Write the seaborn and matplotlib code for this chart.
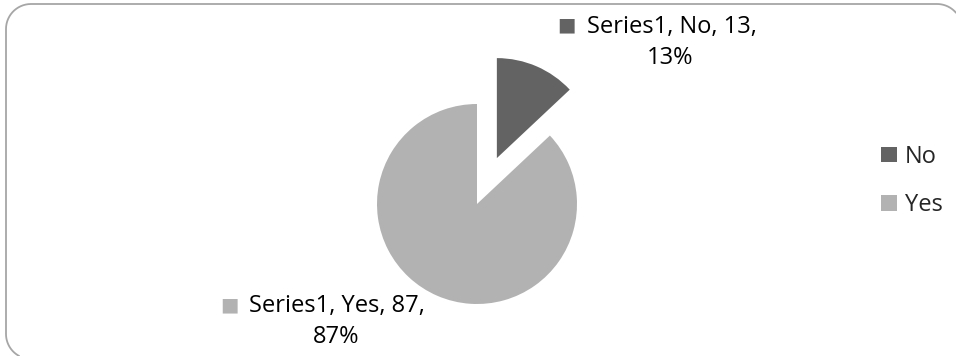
import matplotlib
matplotlib.use("Agg")
import matplotlib.pyplot as plt
from matplotlib.lines import Line2D
import numpy as np
import seaborn as sns

series_name = "Series1"
categories = ["No", "Yes"]
values = [13, 87]
colors = ["#636363", "#b2b2b2"]

sns.set_theme(style="white")
plt.rcParams['font.family'] = ['Open Sans', 'DejaVu Sans']

W, H = 956, 356
fig = plt.figure(figsize=(W / 100, H / 100), dpi=100)
ax = fig.add_axes([0, 0, 1, 1])
cx, cy, R = 477, 204, 100

total = sum(values)
wedges, _ = ax.pie(values, colors=colors, explode=[0.5, 0], startangle=90,
                   counterclock=False, radius=1,
                   wedgeprops=dict(linewidth=0))
ax.set_xlim(-cx / R, (W - cx) / R)
ax.set_ylim(-(H - cy) / R, cy / R)
ax.set_aspect("equal")
ax.axis("off")

def px(x, y):
    return ((x - cx) / R, (cy - y) / R)

fs = 17
# (line1 centre x, line1 centre y, line2 centre x, marker x, marker y)
label_pos = [(672, 27, 670, 566, 25), (337, 306, 336, 229, 305)]
for cat, val, col, (tx, ty, tx2, mx, my) in zip(categories, values, colors, label_pos):
    pct = round(val / total * 100)
    ax.text(*px(tx, ty), f"{series_name}, {cat}, {val},", ha="center", va="center",
            fontsize=fs, color="#000000")
    ax.text(*px(tx2, ty + 31), f"{pct}%", ha="center", va="center",
            fontsize=fs, color="#000000")
    ax.text(*px(mx, my), "\u25A0", ha="center", va="center", fontsize=14,
            color=col, family=["DejaVu Sans"])

leg = ax.legend(wedges, categories, loc="center left",
                bbox_to_anchor=(872 / W, 1 - 181 / H), frameon=False,
                fontsize=fs, handlelength=0.64, handleheight=0.64,
                handletextpad=0.34, labelspacing=1.05, borderaxespad=0)

# rounded chart-area frame: only the part that lies inside the canvas
rc = 25
xl, xr, yt, yb = 6, 962, 4, 359
xs, ys = [], []
phi = np.linspace(np.arcsin((W - (xr - rc)) / rc), 0, 12)       # top-right arc (partial)
xs += list(xr - rc + rc * np.sin(phi)); ys += list(yt + rc - rc * np.cos(phi))
phi = np.linspace(0, np.pi / 2, 16)                               # top-left arc
xs += list(xl + rc - rc * np.sin(phi)); ys += list(yt + rc - rc * np.cos(phi))
psi = np.linspace(0, np.arcsin((H - (yb - rc)) / rc), 14)         # bottom-left arc (partial)
xs += list(xl + rc - rc * np.cos(psi)); ys += list(yb - rc + rc * np.sin(psi))
frame = Line2D(np.array(xs) / 100, (H - np.array(ys)) / 100,
               transform=fig.dpi_scale_trans, color="#a6a6a6", linewidth=1.3)
fig.lines.append(frame)

fig.savefig("out.png", dpi=100)
